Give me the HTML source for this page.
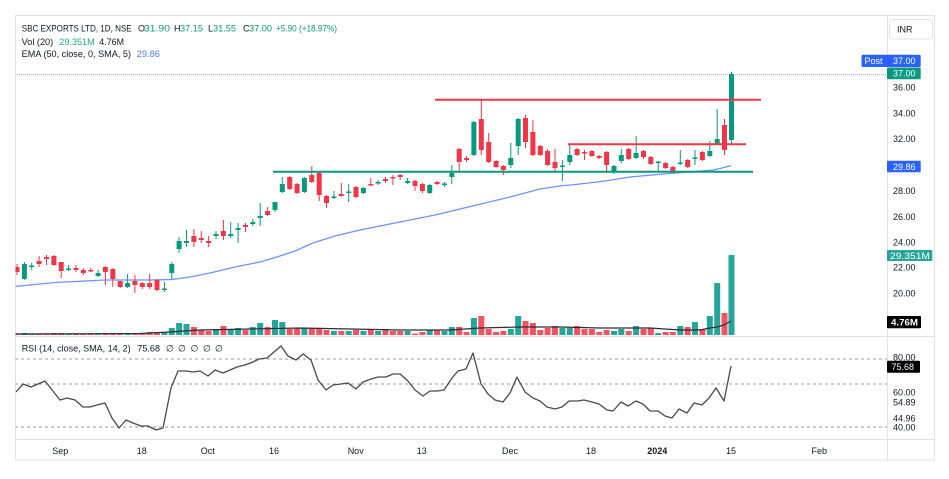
<!DOCTYPE html>
<html><head><meta charset="utf-8"><style>
html,body{margin:0;padding:0;background:#fff;}
body{width:949px;height:479px;overflow:hidden;}
svg{display:block;}
text{font-family:"Liberation Sans",sans-serif;}
</style></head><body>
<svg width="949" height="479" viewBox="0 0 949 479" xmlns="http://www.w3.org/2000/svg">
<defs>
<clipPath id="main"><rect x="15.5" y="15.5" width="871.5" height="320.5"/></clipPath>
<clipPath id="rsi"><rect x="15.5" y="337" width="871.5" height="102"/></clipPath>
</defs>
<rect x="0" y="0" width="949" height="479" fill="#fff"/>
<!-- frame -->
<rect x="15.5" y="15.5" width="919" height="444.5" fill="none" stroke="#e0e3eb" stroke-width="1"/>
<line x1="887.5" y1="15" x2="887.5" y2="460" stroke="#e0e3eb"/>
<line x1="15" y1="336.5" x2="935" y2="336.5" stroke="#e0e3eb"/>
<line x1="15" y1="439.5" x2="935" y2="439.5" stroke="#e0e3eb"/>

<g clip-path="url(#main)">
<!-- dotted price line -->
<line x1="15" y1="74.5" x2="887" y2="74.5" stroke="#9db4f5" stroke-width="1" stroke-dasharray="1,1"/>
<!-- volume green -->
<g fill="#26a69a">
<rect x="21.4" y="333" width="6" height="2"/><rect x="28.7" y="333.5" width="6" height="1.5"/><rect x="65.6" y="333.5" width="6" height="1.5"/><rect x="95.1" y="333.5" width="6" height="1.5"/><rect x="124.6" y="333" width="6" height="2"/><rect x="161.4" y="332" width="6" height="3"/><rect x="168.8" y="328" width="6" height="7"/><rect x="176.1" y="323" width="6" height="12"/><rect x="183.5" y="324" width="6" height="11"/><rect x="213" y="329" width="6" height="6"/><rect x="227.7" y="329" width="6" height="6"/><rect x="235.1" y="328" width="6" height="7"/><rect x="249.8" y="327" width="6" height="8"/><rect x="257.2" y="323" width="6" height="12"/><rect x="272" y="320" width="6" height="15"/><rect x="279.3" y="322" width="6" height="13"/><rect x="301.4" y="328" width="6" height="7"/><rect x="330.9" y="331" width="6" height="4"/><rect x="345.7" y="331" width="6" height="4"/><rect x="360.4" y="331" width="6" height="4"/><rect x="375.1" y="331" width="6" height="4"/><rect x="404.6" y="331" width="6" height="4"/><rect x="426.7" y="330" width="6" height="5"/><rect x="441.5" y="331" width="6" height="4"/><rect x="448.8" y="327" width="6" height="8"/><rect x="470.9" y="318" width="6" height="17"/><rect x="507.8" y="329" width="6" height="6"/><rect x="515.2" y="316" width="6" height="19"/><rect x="559.4" y="328" width="6" height="7"/><rect x="566.8" y="328" width="6" height="7"/><rect x="611" y="331" width="6" height="4"/><rect x="618.3" y="329" width="6" height="6"/><rect x="633.1" y="326" width="6" height="9"/><rect x="655.2" y="333" width="6" height="2"/><rect x="677.3" y="326" width="6" height="9"/><rect x="692" y="322" width="6" height="13"/><rect x="706.8" y="316" width="6" height="19"/><rect x="714.2" y="283" width="6" height="52"/><rect x="728.5" y="255" width="6" height="80"/>
</g>
<!-- volume red -->
<g fill="#f7525f">
<rect x="14" y="333.5" width="6" height="1.5"/><rect x="36.1" y="333.5" width="6" height="1.5"/><rect x="43.5" y="333.5" width="6" height="1.5"/><rect x="50.9" y="333" width="6" height="2"/><rect x="58.2" y="333" width="6" height="2"/><rect x="73" y="333.5" width="6" height="1.5"/><rect x="80.3" y="333.5" width="6" height="1.5"/><rect x="87.7" y="333.5" width="6" height="1.5"/><rect x="102.4" y="333" width="6" height="2"/><rect x="109.8" y="333" width="6" height="2"/><rect x="117.2" y="333" width="6" height="2"/><rect x="131.9" y="333" width="6" height="2"/><rect x="139.3" y="333" width="6" height="2"/><rect x="146.7" y="332" width="6" height="3"/><rect x="154" y="332" width="6" height="3"/><rect x="190.9" y="327" width="6" height="8"/><rect x="198.3" y="330" width="6" height="5"/><rect x="205.6" y="331" width="6" height="4"/><rect x="220.4" y="326" width="6" height="9"/><rect x="242.5" y="330" width="6" height="5"/><rect x="264.6" y="327" width="6" height="8"/><rect x="286.7" y="329" width="6" height="6"/><rect x="294.1" y="328" width="6" height="7"/><rect x="308.8" y="328" width="6" height="7"/><rect x="316.2" y="328" width="6" height="7"/><rect x="323.5" y="330" width="6" height="5"/><rect x="338.3" y="331" width="6" height="4"/><rect x="353" y="330" width="6" height="5"/><rect x="367.8" y="329" width="6" height="6"/><rect x="382.5" y="329" width="6" height="6"/><rect x="389.9" y="331" width="6" height="4"/><rect x="397.2" y="331" width="6" height="4"/><rect x="412" y="333.5" width="6" height="1.5"/><rect x="419.4" y="332" width="6" height="3"/><rect x="434.1" y="330" width="6" height="5"/><rect x="456.2" y="327" width="6" height="8"/><rect x="463.6" y="332" width="6" height="3"/><rect x="478.3" y="316" width="6" height="19"/><rect x="485.7" y="329" width="6" height="6"/><rect x="493.1" y="332" width="6" height="3"/><rect x="500.4" y="331" width="6" height="4"/><rect x="522.5" y="321" width="6" height="14"/><rect x="529.9" y="323" width="6" height="12"/><rect x="537.3" y="330" width="6" height="5"/><rect x="544.6" y="328" width="6" height="7"/><rect x="552" y="326" width="6" height="9"/><rect x="574.1" y="326" width="6" height="9"/><rect x="581.5" y="329" width="6" height="6"/><rect x="588.9" y="329" width="6" height="6"/><rect x="596.2" y="332" width="6" height="3"/><rect x="603.6" y="330" width="6" height="5"/><rect x="625.7" y="331" width="6" height="4"/><rect x="640.5" y="329" width="6" height="6"/><rect x="647.8" y="328" width="6" height="7"/><rect x="662.6" y="332" width="6" height="3"/><rect x="669.9" y="332" width="6" height="3"/><rect x="684.7" y="327" width="6" height="8"/><rect x="699.4" y="329" width="6" height="6"/><rect x="721.5" y="313" width="6" height="22"/>
</g>
<!-- volume MA -->
<polyline fill="none" stroke="#2a2e39" stroke-width="1.2" points="15,334 140,333.5 170,332 200,330 250,329 300,328 350,329 400,330 450,330 480,328 520,327 560,327 600,328 650,328 680,330 700,330 710,328 717,327 724,325 731,321"/>
<!-- EMA -->
<polyline fill="none" stroke="#6d94ff" stroke-width="1.3" points="15,286.5 55,282.5 105,280 150,280 172,279.5 190,277 210,273 235,267 260,262 277,257 295,251 313,243 335,236 360,230 385,225 410,220 435,215 460,209 485,203 510,197 525,193 540,189 560,186 580,184 605,181 630,177 663,174 690,172 713,170 722,168 731,165.5"/>
<!-- wicks green -->
<path fill="none" stroke="#089981" stroke-width="1" d="M24.4 262V280M31.7 263V270M68.6 265V271M98.1 270V277M127.6 274V288M164.4 282V292M171.8 262V279M179.1 237V253M186.5 230V247M216 231V239M230.7 222V238M238.1 223V243M252.8 219V226M260.2 203V226M275 202V212M282.3 177V193M304.4 177V193M333.9 191V199M348.7 184V202M363.4 187V194M378.1 180V185M407.6 178V184M429.7 184V194M444.5 182V187M451.8 165V184M473.9 121V156M510.8 143V168M518.2 118V155M562.4 160V181M569.8 145V165M614 165V174M621.3 149V163M636.1 136V159M658.2 161V172M680.3 150V165M695 150V165M709.8 141V157M717.2 109V145M731.5 72V145"/>
<!-- wicks red -->
<path fill="none" stroke="#f23645" stroke-width="1" d="M17 264V275M39.1 256V267M46.5 255V265M53.9 255V266M61.2 262V278M76 265V272M83.3 268V275M90.7 268V272M105.4 266V285M112.8 268V287M120.2 281V288M134.9 275V293M142.3 282V289M149.7 274V289M157 279V291M193.9 229V247M201.3 231V243M208.6 236V247M223.4 220V240M245.5 223V232M267.6 207V216M289.7 176V190M297.1 183V194M311.8 166V183M319.2 172V201M326.5 195V208M341.3 183V197M356 186V198M370.8 178V186M385.5 177V183M392.9 175V185M400.2 174V180M415 180V191M422.4 183V193M437.1 181V185M459.2 148V172M466.6 156V162M481.3 100V155M488.7 133V163M496.1 160V168M503.4 165V175M525.5 115V148M532.9 120V156M540.3 145V156M547.6 149V166M555 149V172M577.1 148V156M584.5 150V160M591.9 150V157M599.2 155V159M606.6 151V173M628.7 148V160M643.5 150V159M650.8 156V165M665.6 162V169M672.9 166V173M687.7 159V168M702.4 151V161M724.5 119V155"/>
<!-- bodies green -->
<g fill="#089981">
<rect x="21.9" y="264" width="5" height="15"/><rect x="29.2" y="265.5" width="5" height="1.5"/><rect x="66.1" y="268.5" width="5" height="1.5"/><rect x="95.6" y="273" width="5" height="3"/><rect x="125.1" y="283" width="5" height="4"/><rect x="161.9" y="288.5" width="5" height="1.5"/><rect x="169.3" y="264" width="5" height="9"/><rect x="176.6" y="241" width="5" height="8"/><rect x="184" y="241" width="5" height="2"/><rect x="213.5" y="234" width="5" height="2"/><rect x="228.2" y="234" width="5" height="2"/><rect x="235.6" y="228" width="5" height="2"/><rect x="250.3" y="222" width="5" height="2"/><rect x="257.7" y="216" width="5" height="2"/><rect x="272.5" y="202" width="5" height="8"/><rect x="279.8" y="184" width="5" height="8"/><rect x="301.9" y="178" width="5" height="14"/><rect x="331.4" y="196.5" width="5" height="1.5"/><rect x="346.2" y="191.5" width="5" height="1.5"/><rect x="360.9" y="188" width="5" height="5"/><rect x="375.6" y="182" width="5" height="1.5"/><rect x="405.1" y="181" width="5" height="2"/><rect x="427.2" y="185" width="5" height="8"/><rect x="442" y="183.5" width="5" height="1.5"/><rect x="449.3" y="173" width="5" height="4"/><rect x="471.4" y="122" width="5" height="33"/><rect x="508.3" y="158" width="5" height="7"/><rect x="515.7" y="119" width="5" height="27"/><rect x="559.9" y="165.5" width="5" height="1.5"/><rect x="567.3" y="155" width="5" height="7"/><rect x="611.5" y="166" width="5" height="5"/><rect x="618.8" y="155" width="5" height="6"/><rect x="633.6" y="153" width="5" height="5"/><rect x="655.7" y="161.5" width="5" height="1.5"/><rect x="677.8" y="162.5" width="5" height="1.5"/><rect x="692.5" y="157.5" width="5" height="1.5"/><rect x="707.3" y="151" width="5" height="5"/><rect x="714.7" y="139" width="5" height="5"/><rect x="729" y="74" width="5" height="66"/>
</g>
<!-- bodies red -->
<g fill="#f23645">
<rect x="14.5" y="267" width="5" height="5"/><rect x="36.6" y="261" width="5" height="3"/><rect x="44" y="257" width="5" height="2"/><rect x="51.4" y="256" width="5" height="9"/><rect x="58.7" y="262" width="5" height="9"/><rect x="73.5" y="268" width="5" height="2"/><rect x="80.8" y="270" width="5" height="3"/><rect x="88.2" y="270" width="5" height="1.5"/><rect x="102.9" y="267" width="5" height="5"/><rect x="110.3" y="269" width="5" height="10"/><rect x="117.7" y="281" width="5" height="6"/><rect x="132.4" y="281" width="5" height="4"/><rect x="139.8" y="283" width="5" height="4"/><rect x="147.2" y="283" width="5" height="4"/><rect x="154.5" y="280" width="5" height="10"/><rect x="191.4" y="236" width="5" height="6"/><rect x="198.8" y="238" width="5" height="2"/><rect x="206.1" y="241" width="5" height="2"/><rect x="220.9" y="231" width="5" height="5"/><rect x="243" y="225" width="5" height="2"/><rect x="265.1" y="211" width="5" height="4"/><rect x="287.2" y="177" width="5" height="12"/><rect x="294.6" y="184" width="5" height="9"/><rect x="309.3" y="175" width="5" height="7"/><rect x="316.7" y="173" width="5" height="22"/><rect x="324" y="196" width="5" height="7"/><rect x="338.8" y="194" width="5" height="2"/><rect x="353.5" y="187" width="5" height="10"/><rect x="368.3" y="184" width="5" height="1.5"/><rect x="383" y="179" width="5" height="2"/><rect x="390.4" y="177" width="5" height="1.5"/><rect x="397.7" y="175" width="5" height="2"/><rect x="412.5" y="181" width="5" height="5"/><rect x="419.9" y="184" width="5" height="7"/><rect x="434.6" y="182" width="5" height="2"/><rect x="456.7" y="149" width="5" height="13"/><rect x="464.1" y="158" width="5" height="2"/><rect x="478.8" y="119" width="5" height="31"/><rect x="486.2" y="142" width="5" height="20"/><rect x="493.6" y="161" width="5" height="6"/><rect x="500.9" y="166" width="5" height="4"/><rect x="523" y="118" width="5" height="24"/><rect x="530.4" y="132" width="5" height="23"/><rect x="537.8" y="146" width="5" height="9"/><rect x="545.1" y="151" width="5" height="14"/><rect x="552.5" y="162" width="5" height="6"/><rect x="574.6" y="149" width="5" height="6"/><rect x="582" y="152" width="5" height="1.5"/><rect x="589.4" y="151" width="5" height="5"/><rect x="596.7" y="156" width="5" height="2"/><rect x="604.1" y="152" width="5" height="13"/><rect x="626.2" y="149" width="5" height="10"/><rect x="641" y="151" width="5" height="6"/><rect x="648.3" y="157" width="5" height="7"/><rect x="663.1" y="163" width="5" height="5"/><rect x="670.4" y="167" width="5" height="5"/><rect x="685.2" y="160" width="5" height="7"/><rect x="699.9" y="152" width="5" height="8"/><rect x="722" y="125" width="5" height="25"/>
</g>
<!-- drawn lines -->
<line x1="435" y1="99.8" x2="761" y2="99.8" stroke="#f23645" stroke-width="2"/>
<line x1="568" y1="144.3" x2="746" y2="144.3" stroke="#f23645" stroke-width="2"/>
<line x1="273" y1="171.7" x2="753" y2="171.7" stroke="#089981" stroke-width="2"/>
</g>

<!-- header -->
<g font-size="9">
<text x="21.7" y="31.5" fill="#131722" textLength="110" lengthAdjust="spacingAndGlyphs">SBC EXPORTS LTD, 1D, NSE</text>
<text x="138" y="31.5" fill="#131722">O</text><text x="144" y="31.5" fill="#089981" textLength="26" lengthAdjust="spacingAndGlyphs">31.90</text>
<text x="174" y="31.5" fill="#131722">H</text><text x="180" y="31.5" fill="#089981" textLength="23" lengthAdjust="spacingAndGlyphs">37.15</text>
<text x="208" y="31.5" fill="#131722">L</text><text x="213" y="31.5" fill="#089981" textLength="23" lengthAdjust="spacingAndGlyphs">31.55</text>
<text x="243" y="31.5" fill="#131722">C</text><text x="249" y="31.5" fill="#089981" textLength="23" lengthAdjust="spacingAndGlyphs">37.00</text>
<text x="276" y="31.5" fill="#089981" textLength="61" lengthAdjust="spacingAndGlyphs">+5.90 (+18.97%)</text>
<text x="21.7" y="45" fill="#131722" textLength="31.5" lengthAdjust="spacingAndGlyphs">Vol (20)</text>
<text x="59.3" y="45" fill="#22ab94" textLength="35.4" lengthAdjust="spacingAndGlyphs">29.351M</text>
<text x="99.3" y="45" fill="#131722" textLength="24.7" lengthAdjust="spacingAndGlyphs">4.76M</text>
<text x="21.7" y="56.8" fill="#131722" textLength="109.3" lengthAdjust="spacingAndGlyphs">EMA (50, close, 0, SMA, 5)</text>
<text x="136.7" y="56.8" fill="#4f7dff" textLength="23.3" lengthAdjust="spacingAndGlyphs">29.86</text>
</g>

<!-- RSI pane -->
<g clip-path="url(#rsi)">
<line x1="15" y1="359" x2="887" y2="359" stroke="#9598a1" stroke-width="1" stroke-dasharray="3,3"/>
<line x1="15" y1="384" x2="887" y2="384" stroke="#9598a1" stroke-width="1" stroke-dasharray="3,3"/>
<line x1="15" y1="427" x2="887" y2="427" stroke="#9598a1" stroke-width="1" stroke-dasharray="3,3"/>
<polyline fill="none" stroke="#4a4a4a" stroke-width="1.3" stroke-linejoin="round" points="16,392 23,384 31,387 45,381 60,400 67,398 75,400 83,407 90,407 97,405 105,403 112,418 119,428 126,420 133,423 141,426 148,426 156,430 163,428 171,388 178,371 186,371 193,372 200,371 208,376 215,370 223,373 230,370 237,367 245,365 253,362 259,359 267,358 274,352 281,346 288,356 296,360 303,354 311,360 318,380 326,390 333,385 341,384 348,383 356,389 363,382 371,379 378,377 386,377 393,374 400,374 407,380 415,390 423,396 430,391 437,391 444,390 452,378 458,371 466,369 473,353 481,384 488,394 495,400 503,402 510,393 517,377 525,392 533,398 540,401 547,407 555,409 562,407 569,401 577,401 584,400 592,402 599,404 607,410 613,411 621,402 628,406 636,401 643,404 650,411 658,411 665,416 672,418 679,409 687,413 694,403 702,405 709,398 716,388 724,401 731,366"/>
</g>
<g font-size="9">
<text x="21.7" y="351.5" fill="#131722" textLength="109" lengthAdjust="spacingAndGlyphs">RSI (14, close, SMA, 14, 2)</text>
<text x="137.3" y="351.5" fill="#131722" textLength="22.7" lengthAdjust="spacingAndGlyphs">75.68</text>
<text x="166" y="351.5" fill="#131722">∅</text><text x="178" y="351.5" fill="#131722">∅</text><text x="190.5" y="351.5" fill="#131722">∅</text><text x="203" y="351.5" fill="#131722">∅</text><text x="215" y="351.5" fill="#131722">∅</text>
</g>

<!-- price axis -->
<g font-size="9" fill="#131722">
<text x="893" y="90.5">36.00</text>
<text x="893" y="116.3">34.00</text>
<text x="893" y="142">32.00</text>
<text x="893" y="194">28.00</text>
<text x="893" y="220">26.00</text>
<text x="893" y="245.3">24.00</text>
<text x="893" y="270.6">22.00</text>
<text x="893" y="296.6">20.00</text>
<text x="893" y="360.6">80.00</text>
<text x="893" y="395.6">60.00</text>
<text x="893" y="405.6">54.89</text>
<text x="893" y="421.6">44.96</text>
<text x="893" y="430.6">40.00</text>
</g>
<!-- INR box -->
<rect x="889.5" y="19.5" width="43" height="19.5" rx="3" fill="#fff" stroke="#e0e3eb"/>
<text x="897" y="32.3" font-size="9" fill="#131722">INR</text>
<!-- labels -->
<rect x="861.5" y="54.7" width="59.2" height="12.3" rx="1.5" fill="#2962ff"/>
<text x="864.5" y="64" font-size="9" fill="#fff">Post</text>
<text x="893" y="64" font-size="9" fill="#fff">37.00</text>
<rect x="887" y="67.5" width="33.7" height="11.8" rx="1" fill="#089981"/>
<text x="893" y="76.6" font-size="9" fill="#fff">37.00</text>
<rect x="887" y="160.7" width="33.7" height="11.6" rx="1" fill="#2962ff"/>
<text x="893" y="169.8" font-size="9" fill="#fff">29.86</text>
<rect x="887" y="250" width="45.3" height="11" rx="1" fill="#26a69a"/>
<text x="890" y="258.8" font-size="9" fill="#fff" textLength="40" lengthAdjust="spacingAndGlyphs">29.351M</text>
<rect x="887" y="316" width="34" height="12.3" rx="1" fill="#000"/>
<text x="891" y="325.4" font-size="9" fill="#fff" font-weight="bold" textLength="27" lengthAdjust="spacingAndGlyphs">4.76M</text>
<rect x="887" y="360.7" width="33" height="12" rx="1" fill="#000"/>
<text x="891.5" y="370" font-size="9" fill="#fff">75.68</text>

<!-- time axis -->
<g font-size="9" fill="#131722" text-anchor="middle">
<text x="60.3" y="454">Sep</text>
<text x="141.7" y="454">18</text>
<text x="207.7" y="454">Oct</text>
<text x="274" y="454">16</text>
<text x="355.7" y="454">Nov</text>
<text x="421.7" y="454">13</text>
<text x="510" y="454">Dec</text>
<text x="591" y="454">18</text>
<text x="657.3" y="454" font-weight="bold">2024</text>
<text x="731" y="454">15</text>
<text x="819.3" y="454">Feb</text>
</g>
</svg>
</body></html>
